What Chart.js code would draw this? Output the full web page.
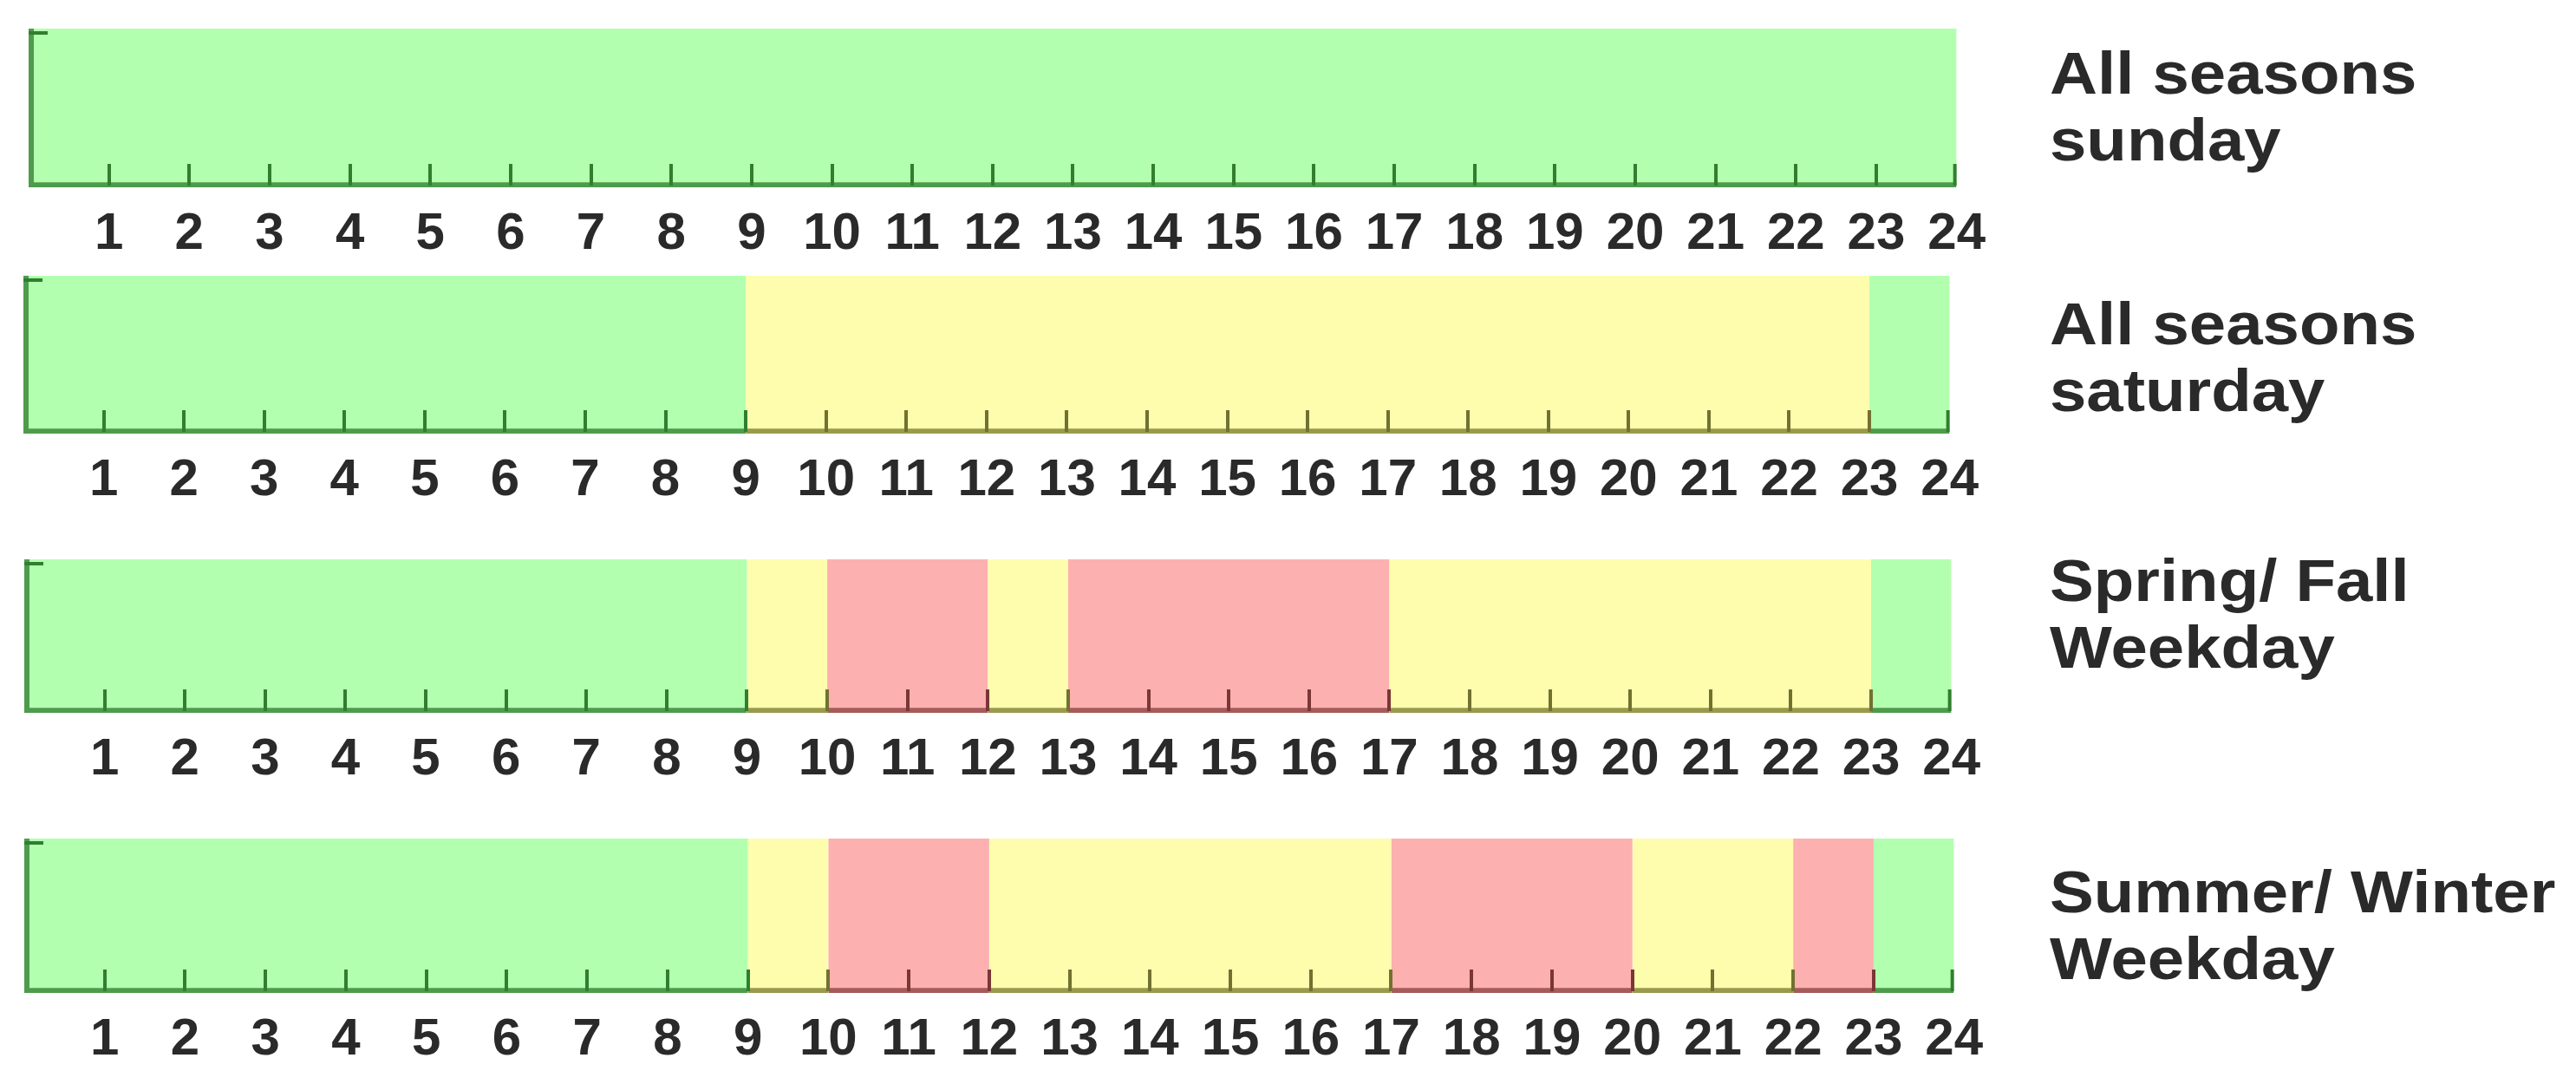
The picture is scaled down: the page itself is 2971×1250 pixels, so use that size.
<!DOCTYPE html>
<html>
<head>
<meta charset="utf-8">
<title>Tariff periods by hour</title>
<script src="https://cdn.jsdelivr.net/npm/chart.js@4.4.1/dist/chart.umd.min.js"></script>
<style>
  html, body { margin: 0; padding: 0; background: #fff; }
  body { width: 2971px; height: 1250px; position: relative; overflow: hidden;
         font-family: "Liberation Sans", Arial, sans-serif; }
  .band { position: absolute; }
  .caption { position: absolute; left: 2364px; font-weight: bold; font-size: 68px; line-height: 77px;
             color: #2a2a2a; white-space: nowrap; transform: scaleX(1.12); transform-origin: left top; }
</style>
</head>
<body>
<script>
// ---- data ----------------------------------------------------------------
const hourTicks = [1,2,3,4,5,6,7,8,9,10,11,12,13,14,15,16,17,18,19,20,21,22,23,24];

// each row: hour boundaries + the tariff zone between consecutive boundaries
const sundayBounds = [0, 24];
const sundayZones  = ['off'];

const saturdayBounds = [0, 9, 23, 24];
const saturdayZones  = ['off', 'mid', 'off'];

const springFallBounds = [0, 9, 10, 12, 13, 17, 23, 24];
const springFallZones  = ['off', 'mid', 'peak', 'mid', 'peak', 'mid', 'off'];

const summerWinterBounds = [0, 9, 10, 12, 17, 20, 22, 23, 24];
const summerWinterZones  = ['off', 'mid', 'peak', 'mid', 'peak', 'mid', 'peak', 'off'];

const rowTitles    = ['All seasons', 'All seasons', 'Spring/ Fall', 'Summer/ Winter'];
const rowSubtitles = ['sunday', 'saturday', 'Weekday', 'Weekday'];

// ---- styling -------------------------------------------------------------
const fillColors = { off: '#b3ffb0', mid: '#fdfdad', peak: '#fdb0b0' };
const edgeColors = { off: '#4f9b4d', mid: '#9a9a4e', peak: '#a65b5b' };
const tickColors = { off: '#2f7f2f', mid: '#717131', peak: '#7b3636' };
const textColor = '#2a2a2a';
const tickFont = { family: '"Liberation Sans", Arial, sans-serif', size: 60, weight: 'bold' };

// plot rectangle of every row on the page (px)
const frames = [
  { left: 33, right: 2258, top: 33,  bottom: 216,  textTop: 46 },
  { left: 27, right: 2250, top: 318, bottom: 500,  textTop: 335 },
  { left: 28, right: 2252, top: 645, bottom: 822,  textTop: 631 },
  { left: 28, right: 2255, top: 967, bottom: 1145, textTop: 990 }
];
const padL = 10, padR = 50, padT = 5, axisH = 100;

// inward tick marks + left spine, drawn through the x scale
const bandAxisPlugin = {
  id: 'bandAxis',
  afterDatasetsDraw(chart, args, opts) {
    const { ctx, chartArea, scales } = chart;
    const { left, right, top, bottom } = chartArea;
    ctx.save();
    ctx.lineWidth = 4;
    hourTicks.forEach(h => {
      let k = 0;
      while (k < opts.zones.length - 1 && h > opts.bounds[k + 1]) k++;
      const px = Math.min(Math.round(scales.x.getPixelForValue(h)), right - 2);
      ctx.strokeStyle = tickColors[opts.zones[k]];
      ctx.beginPath();
      ctx.moveTo(px, bottom - 27);
      ctx.lineTo(px, bottom - 2);
      ctx.stroke();
    });
    // left spine
    ctx.strokeStyle = edgeColors.off;
    ctx.lineWidth = 6;
    ctx.beginPath();
    ctx.moveTo(left + 3, top);
    ctx.lineTo(left + 3, bottom);
    ctx.stroke();
    // little tick at the top of the spine
    ctx.strokeStyle = tickColors.off;
    ctx.lineWidth = 4;
    ctx.beginPath();
    ctx.moveTo(left, top + 5);
    ctx.lineTo(left + 22, top + 5);
    ctx.stroke();
    ctx.restore();
  }
};

function makeBand(idx, bounds, zones) {
  const f = frames[idx];
  const wrap = document.createElement('div');
  wrap.className = 'band';
  wrap.style.left = (f.left - padL) + 'px';
  wrap.style.top = (f.top - padT) + 'px';
  const canvas = document.createElement('canvas');
  canvas.width = (f.right - f.left) + padL + padR;
  canvas.height = padT + (f.bottom - f.top) + axisH;
  wrap.appendChild(canvas);
  document.body.appendChild(wrap);

  const datasets = zones.map((z, i) => ({
    label: z,
    data: [[bounds[i], bounds[i + 1]]],
    backgroundColor: fillColors[z],
    borderColor: edgeColors[z],
    borderWidth: { top: 0, right: 0, bottom: 6, left: 0 },
    borderSkipped: false,
    barPercentage: 1,
    categoryPercentage: 1,
    grouped: false
  }));

  new Chart(canvas, {
    type: 'bar',
    data: { labels: ['hours'], datasets },
    options: {
      indexAxis: 'y',
      responsive: false,
      animation: false,
      devicePixelRatio: 1,
      layout: { padding: { left: padL, right: padR, top: padT, bottom: 0 } },
      scales: {
        x: {
          type: 'linear',
          min: 0, max: 24,
          afterBuildTicks: s => { s.ticks = hourTicks.map(v => ({ value: v })); },
          afterFit: s => { s.height = axisH; },
          ticks: { autoSkip: false, maxRotation: 0, padding: 18, color: textColor, font: tickFont },
          grid: { display: false, drawTicks: false },
          border: { display: false }
        },
        y: { display: false }
      },
      plugins: {
        legend: { display: false },
        tooltip: { enabled: false },
        bandAxis: { bounds, zones }
      }
    },
    plugins: [bandAxisPlugin]
  });

  const cap = document.createElement('div');
  cap.className = 'caption';
  cap.style.top = f.textTop + 'px';
  cap.innerHTML = rowTitles[idx] + '<br>' + rowSubtitles[idx];
  document.body.appendChild(cap);
}

makeBand(0, sundayBounds, sundayZones);
makeBand(1, saturdayBounds, saturdayZones);
makeBand(2, springFallBounds, springFallZones);
makeBand(3, summerWinterBounds, summerWinterZones);
</script>
</body>
</html>
